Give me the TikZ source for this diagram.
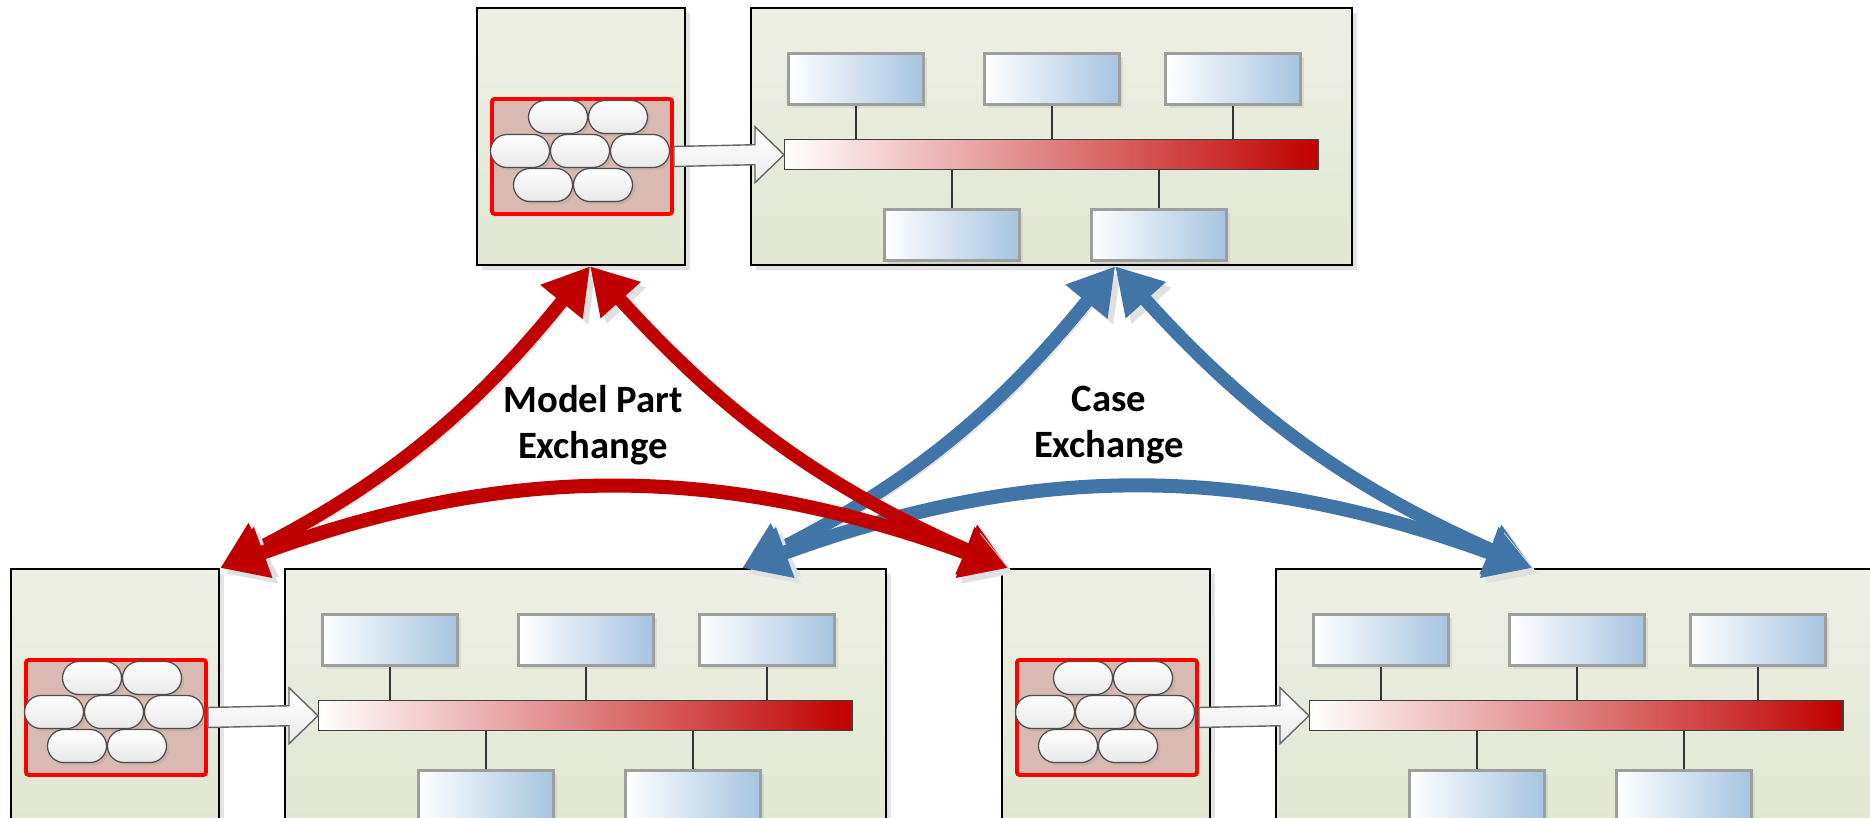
\documentclass[tikz,border=0pt]{standalone}
\usepackage{fontspec}
\usepackage{tikz}
\usetikzlibrary{shapes.misc,arrows.meta,positioning,calc,shadows}
\newfontfamily\lblfont{Carlito}

\definecolor{panetop}{RGB}{237,239,228}
\definecolor{panebot}{RGB}{225,231,210}
\definecolor{partfill}{RGB}{217,186,178}
\definecolor{partred}{RGB}{255,0,0}
\definecolor{unitblue}{RGB}{166,196,224}
\definecolor{busred}{RGB}{192,0,0}
\definecolor{mpred}{RGB}{192,0,0}
\definecolor{caseblue}{RGB}{65,117,167}

\tikzset{
  pane/.style={draw=black, line width=0.6pt, top color=panetop, bottom color=panebot,
    anchor=north west, inner sep=0pt,
    drop shadow={shadow xshift=1.3pt, shadow yshift=-1.3pt, opacity=0.22}},
  smallpane/.style={pane, minimum width=2.08cm, minimum height=2.57cm},
  bigpane/.style={pane, minimum width=6.01cm, minimum height=2.57cm},
  partbox/.style={draw=partred, line width=1.1pt, fill=partfill, rounded corners=0.8pt,
    anchor=north west, minimum width=1.80cm, minimum height=1.15cm, inner sep=0pt},
  pill/.style={draw=black!70, line width=0.35pt, rounded corners=0.165cm,
    top color=white, bottom color=black!9, minimum width=0.59cm, minimum height=0.33cm,
    inner sep=0pt, drop shadow={shadow xshift=0.8pt, shadow yshift=-0.8pt, opacity=0.18}},
  unit/.style={draw=black!38, line width=0.9pt, left color=white, right color=unitblue,
    anchor=north west, minimum width=1.35cm, minimum height=0.51cm, inner sep=0pt,
    drop shadow={shadow xshift=0.9pt, shadow yshift=-0.9pt, opacity=0.15}},
  bus/.style={draw=black!75, line width=0.4pt, left color=white, right color=busred,
    anchor=north west, minimum width=5.33cm, minimum height=0.30cm, inner sep=0pt},
  tie/.style={draw=black!80, line width=0.6pt},
  feed/.style={draw=black!60, line width=0.4pt, top color=white, bottom color=black!8},
  exch/.style={line width=3.8pt,
    {Triangle[length=13pt,width=14.5pt]}-{Triangle[length=13pt,width=14.5pt]},
    preaction={draw=black!12, transform canvas={shift={(1.6pt,-1.6pt)}}}},
  lbl/.style={font=\lblfont\bfseries\fontsize{11}{13.2}\selectfont, align=center}
}

\begin{document}
\begin{tikzpicture}[x=0.01cm, y=0.01cm]
\useasboundingbox (0,0) rectangle (1870,-817);

% model part sources
\foreach \n/\px/\py in {a/476/7, b/10/568, c/1001/568}{
  \node[smallpane] (src\n) at (\px,-\py) {};
  \node[partbox] (part\n) at ($(src\n.north west)+(14,-90)$) {};
}

% processing panels: bus with units above and below
\foreach \n/\px/\py in {a/750/7, b/284/568, c/1275/568}{
  \node[bigpane] (proc\n) at (\px,-\py) {};
  \node[bus] (bus\n) at ($(proc\n.north west)+(34,-132)$) {};
  \foreach \k/\ux/\uy in {1/37/45, 2/233/45, 3/414/45, 4/133/201, 5/340/201}
    \node[unit] (unit\n\k) at ($(proc\n.north west)+(\ux,-\uy)$) {};
  \foreach \k in {1,2,3}
    \draw[tie] (unit\n\k.south) -- (unit\n\k.south |- bus\n.north);
  \foreach \k in {4,5}
    \draw[tie] (unit\n\k.north) -- (unit\n\k.north |- bus\n.south);
}

% feed arrows into the bus
\foreach \n in {a,b,c}
  \draw[feed] ($(part\n.east)+(0,10)$) -- ($(bus\n.west)+(-29,10)$)
    -- ($(bus\n.west)+(-29,28)$) -- (bus\n.west) -- ($(bus\n.west)+(-29,-28)$)
    -- ($(bus\n.west)+(-29,-10)$) -- ($(part\n.east)+(0,-10)$) -- cycle;

% model parts
\foreach \n in {a,b,c}
  \foreach \i/\cx/\cy in {1/68/20, 2/128/20, 3/30/54, 4/90/54, 5/150/54, 6/53/88, 7/113/88}
    \node[pill] (pill\n\i) at ($(part\n.north west)+(\cx,-\cy)$) {};

% exchange end points
\coordinate (mptop) at ([xshift=1.14cm]srca.south west);
\coordinate (mpleft) at (srcb.north east);
\coordinate (mpright) at ([xshift=0.07cm]srcc.north west);
\coordinate (cstop) at ([xshift=3.65cm]proca.south west);
\coordinate (csleft) at ([xshift=4.58cm]procb.north west);
\coordinate (csright) at ([xshift=2.57cm]procc.north west);

% case exchange
\draw[exch, caseblue] (cstop) to[bend left=12] (csleft);
\draw[exch, caseblue] (cstop) to[bend right=12] (csright);
\draw[exch, caseblue, line width=4pt] (csleft) to[bend left=20] (csright);

% model part exchange
\draw[exch, mpred] (mptop) to[bend left=12] (mpleft);
\draw[exch, mpred] (mptop) to[bend right=12] (mpright);
\draw[exch, mpred, line width=4pt] (mpleft) to[bend left=20] (mpright);

\node[lbl] (mplabel) at (593,-425) {Model Part\\Exchange};
\node[lbl] (cslabel) at (1109,-425) {Case\\Exchange};
\end{tikzpicture}
\end{document}
